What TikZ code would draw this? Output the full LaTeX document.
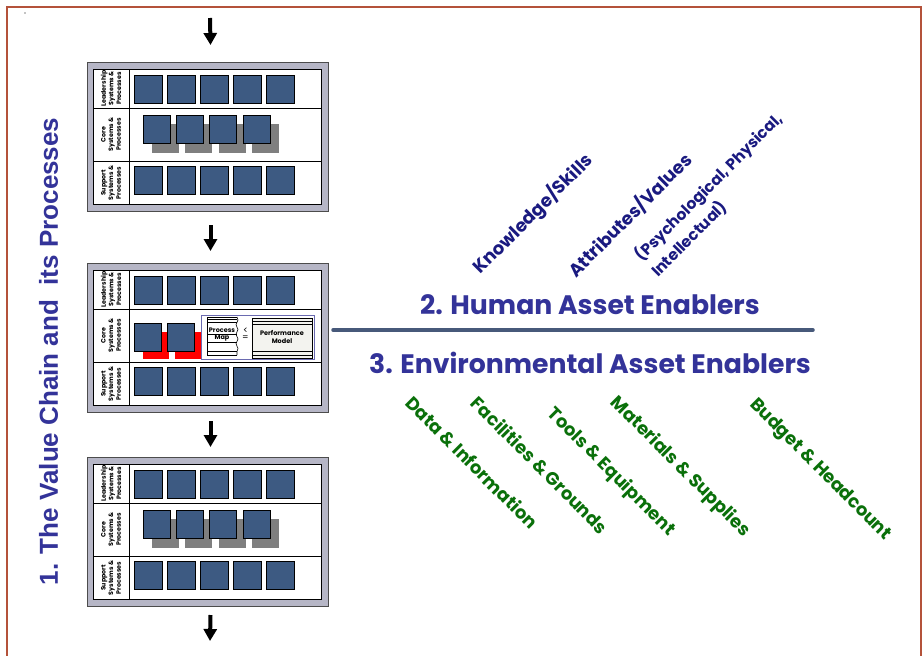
\documentclass[tikz,border=0pt]{standalone}
\usepackage{fontspec}
\setmainfont{Poppins}
\newfontfamily\titlefont{Liberation Sans}
\usetikzlibrary{arrows.meta,decorations.pathmorphing}

\definecolor{frameRed}{HTML}{B4523A}
\definecolor{panelGray}{HTML}{B6B6C6}
\definecolor{cellBlue}{HTML}{3D5A82}
\definecolor{shadowGray}{HTML}{7F7F7F}
\definecolor{titleBlue}{HTML}{333399}
\definecolor{navyText}{HTML}{1A1A80}
\definecolor{greenText}{HTML}{0A700A}
\definecolor{ruleBlue}{HTML}{47597A}
\definecolor{mapBlue}{HTML}{6A6AB0}
\definecolor{docFill}{HTML}{F3F3EF}

\tikzset{
  panelbox/.style={draw=black!70, line width=1pt, fill=panelGray,
    minimum width=241pt, minimum height=149pt, inner sep=0pt},
  tableline/.style={draw=black, line width=0.9pt},
  cell/.style={draw=black, line width=0.8pt, fill=cellBlue},
  rowlabel/.style={rotate=90, align=center, inner sep=0pt,
    font=\bfseries\fontsize{6.3}{7.6}\selectfont},
  flowarrow/.style={line width=4pt, -{Triangle[width=13pt,length=12pt]}},
  docline/.style={draw=black, line width=0.6pt},
  humanlabel/.style={rotate=45, text=navyText, inner sep=0pt,
    font=\bfseries\fontsize{18}{22}\selectfont},
  envlabel/.style={rotate=-45, text=greenText, inner sep=0pt,
    font=\bfseries\fontsize{18}{22}\selectfont},
  heading/.style={text=titleBlue, inner sep=0pt,
    font=\bfseries\fontsize{26.7}{30}\selectfont}
}

% one value-chain panel: name, top edge
\newcommand\vcpanel[2]{%
  \node[panelbox, anchor=north west] (#1) at (87,#2) {};
  \draw[tableline, fill=white] (93,#2+7) rectangle (321,#2+142);
  \draw[tableline] (129,#2+7) -- (129,#2+142);
  \draw[tableline] (93,#2+46) -- (321,#2+46);
  \draw[tableline] (93,#2+99) -- (321,#2+99);
  \foreach \i in {0,...,4} {
    \draw[cell] (134+33*\i,#2+13) rectangle ++(28,28);
    \draw[cell] (134+33*\i,#2+104) rectangle ++(28,28);
  }
  \node[rowlabel] (#1-lead) at (111,#2+26.5) {Leadership\\Systems \&\\Processes};
  \node[rowlabel] (#1-core) at (111,#2+72.5) {Core\\Systems \&\\Processes};
  \node[rowlabel] (#1-supp) at (111,#2+121) {Support\\Systems \&\\Processes};
}

% core row with shadowed process blocks
\newcommand\shadowrow[1]{%
  \foreach \i in {0,...,3}
    \fill[shadowGray] (152+33.3*\i,#1+62) rectangle ++(27,29);
  \foreach \i in {0,...,3}
    \draw[cell] (143+33.3*\i,#1+53) rectangle ++(27,28);
}

\begin{document}
\begin{tikzpicture}[x=1pt, y=-1pt]
  \useasboundingbox (0,0) rectangle (924,656);
  \fill[white] (0,0) rectangle (924,656);

  % outer frame
  \draw[frameRed, line width=2pt] (7,656) -- (7,7) -- (921,7) -- (921,656);
  \fill[black] (25,13) circle (0.6);

  % the three panels of the value chain
  \vcpanel{p1}{62}
  \shadowrow{62}
  \vcpanel{p2}{263}
  \vcpanel{p3}{457}
  \shadowrow{457}

  % middle panel: red blocks, process map and performance model
  \fill[red] (143,332) rectangle (169,359);
  \fill[red] (175,332) rectangle (202,359);
  \draw[cell] (134,323) rectangle ++(27,28);
  \draw[cell] (167,323) rectangle ++(27,28);
  \draw[mapBlue, line width=0.8pt, fill=white] (201,315) rectangle (314,359);

  \draw[docline, fill=white] (237,317) -- (207,317) -- (207,355) -- (237,355);
  \draw[docline, decorate, decoration={snake, segment length=9.5pt, amplitude=1pt}]
    (237,317) -- (237,355);
  \foreach \yy in {319.3,322.3,334.7,342,351.3}
    \draw[docline] (207,\yy) -- (237,\yy);
  \node[inner sep=0pt, font=\bfseries\fontsize{6.5}{7}\selectfont] (pmap1) at (222,330) {Process};
  \node[inner sep=0pt, font=\bfseries\fontsize{6.5}{7}\selectfont] (pmap2) at (222,338.5) {Map};
  \node[inner sep=0pt, font=\fontsize{9}{9}\selectfont] (lt) at (245.5,331) {<};
  \node[inner sep=0pt, font=\fontsize{9}{9}\selectfont] (eq) at (245.5,338) {=};

  \draw[docline, fill=docFill] (252,318) rectangle (312,358);
  \foreach \yy in {321,324.5,351.5,355}
    \draw[docline] (252,\yy) -- (312,\yy);
  \node[inner sep=0pt, font=\bfseries\fontsize{6.5}{7}\selectfont] (perf1) at (282,333) {Performance};
  \node[inner sep=0pt, font=\bfseries\fontsize{6.5}{7}\selectfont] (perf2) at (282,341.5) {Model};

  % flow arrows
  \coordinate (inflow) at (210,18);
  \coordinate (outflow) at (210,641);
  \draw[flowarrow] (inflow) -- ([xshift=2.5pt,yshift=17pt]p1.north);
  \draw[flowarrow] ([xshift=2.5pt,yshift=-13pt]p1.south) -- ([xshift=2.5pt,yshift=12pt]p2.north);
  \draw[flowarrow] ([xshift=2.5pt,yshift=-8pt]p2.south) -- ([xshift=2.5pt,yshift=10pt]p3.north);
  \draw[flowarrow] ([xshift=2.5pt,yshift=-8pt]p3.south) -- (outflow);

  % vertical title
  \node[rotate=90, text=titleBlue, inner sep=0pt,
        font=\titlefont\bfseries\fontsize{26}{30}\selectfont]
        (title) at (48.5,351.5) {1. The Value Chain and\ \ its Processes};

  % human asset enablers
  \node[humanlabel] (know) at (533,214) {Knowledge/Skills};
  \node[humanlabel] (attr) at (630,215) {Attributes/Values};
  \node[humanlabel, align=left, font=\bfseries\fontsize{15.6}{23}\selectfont]
        (psych) at (717,195) {(Psychological, Physical,\\Intellectual)};
  \node[heading] (human) at (590,305) {2. Human Asset Enablers};

  \coordinate (ruleL) at (333,330);
  \coordinate (ruleR) at (813,330);
  \draw[ruleBlue, line width=3.5pt, line cap=round] (ruleL) -- (ruleR);

  % environmental asset enablers
  \node[heading] (env) at (590,363) {3. Environmental Asset Enablers};
  \node[envlabel] (data) at (472,462) {Data \& Information};
  \node[envlabel] (fac) at (540,465) {Facilities \& Grounds};
  \node[envlabel] (tools) at (611,472) {Tools \& Equipment};
  \node[envlabel] (mat) at (680,467) {Materials \& Supplies};
  \node[envlabel] (budget) at (820,470) {Budget \& Headcount};
\end{tikzpicture}
\end{document}
